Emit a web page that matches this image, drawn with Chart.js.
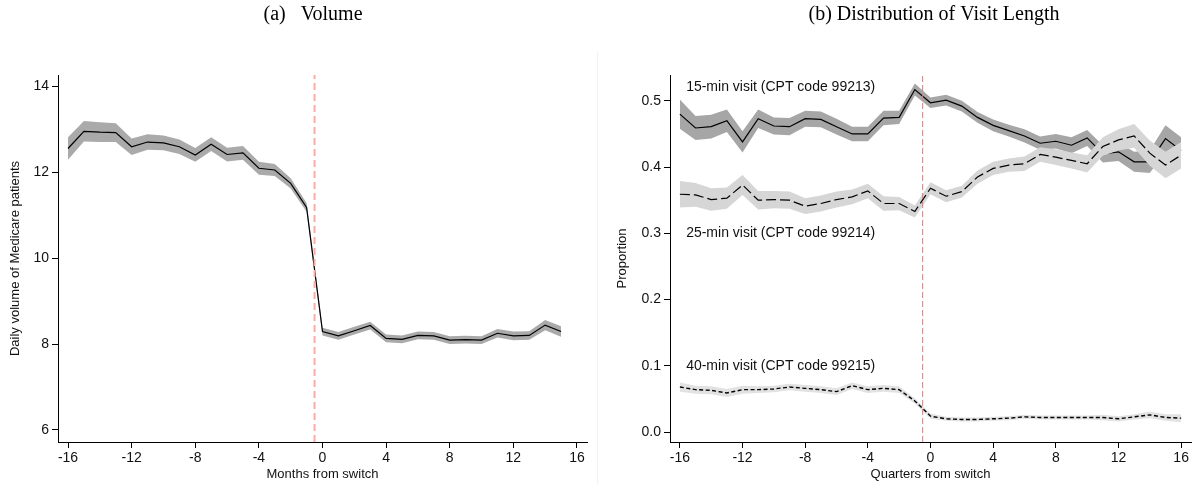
<!DOCTYPE html>
<html>
<head>
<meta charset="utf-8">
<script src="https://cdn.jsdelivr.net/npm/chart.js@4.4.1/dist/chart.umd.min.js"></script>
<style>
  body { margin: 0; background: #fff; }
  #wrap { position: relative; width: 1196px; height: 484px; }
  #panelA { position: absolute; left: 0; top: 0; }
  #panelB { position: absolute; left: 598px; top: 0; }
  #divider { position: absolute; left: 597px; top: 52px; width: 1px; height: 432px; background: #f2f2f2; }
</style>
</head>
<body>
<div id="wrap">
  <div id="panelA"><canvas id="volumeChart" width="598" height="484"></canvas></div>
  <div id="divider"></div>
  <div id="panelB"><canvas id="visitChart" width="598" height="484"></canvas></div>
</div>
<script>
// Panel (a): monthly volume around the switch
const months = [-16, -15, -14, -13, -12, -11, -10, -9, -8, -7, -6, -5, -4, -3, -2, -1,
  0, 1, 2, 3, 4, 5, 6, 7, 8, 9, 10, 11, 12, 13, 14, 15];
const volume = [12.55, 12.95, 12.93, 12.92, 12.59, 12.70, 12.68, 12.59, 12.40, 12.65, 12.41, 12.45, 12.09, 12.05, 11.74, 11.18,
  8.29, 8.19, 8.31, 8.43, 8.13, 8.11, 8.20, 8.19, 8.09, 8.10, 8.09, 8.25, 8.19, 8.20, 8.44, 8.29];
const volumeCI = [0.26, 0.24, 0.23, 0.22, 0.19, 0.18, 0.17, 0.17, 0.16, 0.16, 0.16, 0.16, 0.15, 0.14, 0.12, 0.10,
  0.09, 0.09, 0.09, 0.09, 0.09, 0.09, 0.09, 0.09, 0.09, 0.09, 0.09, 0.10, 0.10, 0.10, 0.12, 0.12];
const volumeTicks = [6, 8, 10, 12, 14];

// Panel (b): quarterly share of visits by length
const quarters = [-16, -15, -14, -13, -12, -11, -10, -9, -8, -7, -6, -5, -4, -3, -2, -1,
  0, 1, 2, 3, 4, 5, 6, 7, 8, 9, 10, 11, 12, 13, 14, 15, 16];
const share15 = [0.480, 0.459, 0.461, 0.470, 0.438, 0.473, 0.462, 0.461, 0.473, 0.472, 0.461, 0.450, 0.450, 0.474, 0.475, 0.517,
  0.497, 0.501, 0.492, 0.475, 0.463, 0.455, 0.447, 0.436, 0.439, 0.433, 0.444, 0.420, 0.423, 0.408, 0.408, 0.443, 0.425];
const share25 = [0.359, 0.358, 0.351, 0.353, 0.373, 0.350, 0.351, 0.350, 0.341, 0.345, 0.351, 0.355, 0.364, 0.345, 0.345, 0.333,
  0.368, 0.356, 0.363, 0.385, 0.398, 0.403, 0.405, 0.419, 0.415, 0.410, 0.405, 0.431, 0.441, 0.447, 0.421, 0.403, 0.418];
const share40 = [0.068, 0.064, 0.063, 0.059, 0.064, 0.064, 0.065, 0.068, 0.066, 0.064, 0.061, 0.070, 0.064, 0.066, 0.064, 0.047,
  0.024, 0.020, 0.019, 0.019, 0.020, 0.021, 0.023, 0.022, 0.022, 0.022, 0.022, 0.022, 0.020, 0.023, 0.026, 0.022, 0.021];
const share15CI = [0.022, 0.018, 0.018, 0.017, 0.016, 0.014, 0.013, 0.013, 0.012, 0.012, 0.012, 0.011, 0.011, 0.011, 0.010, 0.009,
  0.008, 0.008, 0.008, 0.008, 0.009, 0.009, 0.010, 0.010, 0.011, 0.012, 0.012, 0.013, 0.014, 0.015, 0.017, 0.020, 0.020];
const share25CI = [0.020, 0.018, 0.017, 0.016, 0.015, 0.014, 0.013, 0.013, 0.012, 0.012, 0.012, 0.011, 0.011, 0.011, 0.010, 0.009,
  0.009, 0.009, 0.009, 0.010, 0.010, 0.010, 0.011, 0.011, 0.012, 0.012, 0.013, 0.014, 0.016, 0.018, 0.019, 0.020, 0.020];
const share40CI = [0.007, 0.006, 0.006, 0.006, 0.006, 0.005, 0.005, 0.005, 0.005, 0.005, 0.005, 0.005, 0.005, 0.005, 0.005, 0.004,
  0.004, 0.003, 0.003, 0.003, 0.003, 0.003, 0.003, 0.003, 0.003, 0.003, 0.003, 0.004, 0.004, 0.004, 0.005, 0.005, 0.006];
const shareTicks = [0, 0.1, 0.2, 0.3, 0.4, 0.5];
const visitLabels = ['15-min visit (CPT code 99213)', '25-min visit (CPT code 99214)', '40-min visit (CPT code 99215)'];
const visitLabelY = [0.52, 0.30, 0.10];
const visitLabelX = -15.6;

const timeTicks = [-16, -12, -8, -4, 0, 4, 8, 12, 16];
const switchAt = -0.5;

const sans = 'Liberation Sans, Arial, sans-serif';

function toPoints(xs, ys) {
  return xs.map((x, i) => ({ x: x, y: ys[i] }));
}

// upper edge + lower edge filled back to the upper one
function band(xs, ys, ci, color, order) {
  const edge = { borderWidth: 0, borderColor: 'rgba(0,0,0,0)', pointRadius: 0, tension: 0, order: order };
  return [
    Object.assign({ data: xs.map((x, i) => ({ x: x, y: ys[i] + ci[i] })), fill: false }, edge),
    Object.assign({ data: xs.map((x, i) => ({ x: x, y: ys[i] - ci[i] })), fill: '-1', backgroundColor: color }, edge)
  ];
}

function line(xs, ys, dash, width, order) {
  return { data: toPoints(xs, ys), borderColor: '#000', borderWidth: width, borderDash: dash,
    pointRadius: 0, tension: 0, fill: false, order: order };
}

function switchLine(yMin, yMax, color, width, dash) {
  return { data: [{ x: switchAt, y: yMin }, { x: switchAt, y: yMax }], borderColor: color,
    borderWidth: width, borderDash: dash, pointRadius: 0, fill: false, order: 0 };
}

const panelTitle = {
  id: 'panelTitle',
  afterDraw(chart, args, opts) {
    const ctx = chart.ctx;
    ctx.save();
    ctx.font = '20px "Liberation Serif", "Times New Roman", serif';
    ctx.fillStyle = '#000';
    ctx.textAlign = 'center';
    ctx.textBaseline = 'middle';
    ctx.fillText(opts.text, opts.x, opts.y);
    ctx.restore();
  }
};

const visitNames = {
  id: 'visitNames',
  afterDatasetsDraw(chart) {
    const { ctx, scales } = chart;
    ctx.save();
    ctx.font = '14px ' + sans;
    ctx.fillStyle = '#111';
    ctx.textAlign = 'left';
    ctx.textBaseline = 'middle';
    visitLabels.forEach((t, i) => {
      ctx.fillText(t, scales.x.getPixelForValue(visitLabelX), scales.y.getPixelForValue(visitLabelY[i]));
    });
    ctx.restore();
  }
};

function axes(yMin, yMax, yTicks, yFmt, yTitle, yWidth, yTitlePad, xTitle) {
  return {
    x: {
      type: 'linear', min: -16.63, max: 16.63,
      afterBuildTicks: s => { s.ticks = timeTicks.map(v => ({ value: v })); },
      afterFit: s => { s.height = 42; },
      ticks: { color: '#111', font: { family: sans, size: 14 }, padding: 2, maxRotation: 0, autoSkip: false },
      grid: { drawOnChartArea: false, drawTicks: true, tickLength: 6, tickColor: '#000', tickWidth: 1 },
      border: { display: true, color: '#000', width: 1 },
      title: { display: true, text: xTitle, color: '#111', font: { family: sans, size: 13 }, padding: { top: 0, bottom: 2 } }
    },
    y: {
      type: 'linear', min: yMin, max: yMax,
      afterBuildTicks: s => { s.ticks = yTicks.map(v => ({ value: v })); },
      afterFit: s => { s.width = yWidth; },
      ticks: { color: '#111', font: { family: sans, size: 14 }, padding: 3, callback: yFmt, autoSkip: false },
      grid: { drawOnChartArea: false, drawTicks: true, tickLength: 6, tickColor: '#000', tickWidth: 1 },
      border: { display: true, color: '#000', width: 1 },
      title: { display: true, text: yTitle, color: '#111', font: { family: sans, size: 13 }, padding: { top: yTitlePad, bottom: 0 } }
    }
  };
}

const common = {
  responsive: false,
  animation: false,
  events: [],
  plugins: { legend: { display: false }, tooltip: { enabled: false } }
};

const volMin = 5.72, volMax = 14.26;
new Chart(document.getElementById('volumeChart'), {
  type: 'line',
  data: {
    datasets: [
      switchLine(volMin, volMax, '#ffaaaa', 2, [7, 4]),
      line(months, volume, [], 1.2, 1),
      ...band(months, volume, volumeCI, '#aaaaaa', 2)
    ]
  },
  options: Object.assign({}, common, {
    layout: { padding: { top: 75, right: 11, bottom: 0, left: 0 }, autoPadding: false },
    scales: axes(volMin, volMax, volumeTicks, v => String(v), 'Daily volume of Medicare patients', 58, 8, 'Months from switch'),
    plugins: Object.assign({}, common.plugins, { panelTitle: { text: '(a)   Volume', x: 313, y: 15 } })
  }),
  plugins: [panelTitle]
});

const shareMin = -0.015, shareMax = 0.539;
new Chart(document.getElementById('visitChart'), {
  type: 'line',
  data: {
    datasets: [
      switchLine(shareMin, shareMax, '#e07878', 1, [6, 3]),
      line(quarters, share40, [4, 2.5], 1.4, 1),
      ...band(quarters, share40, share40CI, '#e2e2e2', 2),
      line(quarters, share25, [10, 4], 1.2, 3),
      ...band(quarters, share25, share25CI, '#d6d6d6', 4),
      line(quarters, share15, [], 1.2, 5),
      ...band(quarters, share15, share15CI, '#a6a6a6', 6)
    ]
  },
  options: Object.assign({}, common, {
    layout: { padding: { top: 75, right: 5, bottom: 0, left: 0 }, autoPadding: false },
    scales: axes(shareMin, shareMax, shareTicks, v => Number(v).toFixed(1), 'Proportion', 72, 17, 'Quarters from switch'),
    plugins: Object.assign({}, common.plugins, { panelTitle: { text: '(b) Distribution of Visit Length', x: 336, y: 15 } })
  }),
  plugins: [panelTitle, visitNames]
});
</script>
</body>
</html>
